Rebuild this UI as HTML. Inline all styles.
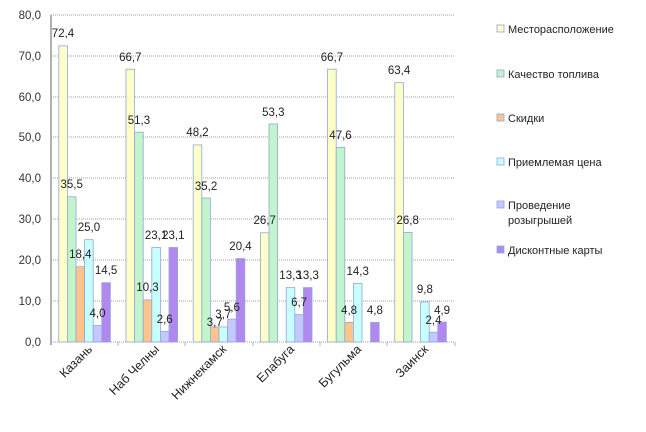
<!DOCTYPE html>
<html><head><meta charset="utf-8"><style>
html,body{margin:0;padding:0;background:#fff;}
svg{display:block;font-family:"Liberation Sans",sans-serif;}
</style></head><body>
<svg width="646" height="432" viewBox="0 0 646 432" xmlns="http://www.w3.org/2000/svg">
<g stroke="#a0a0a0" stroke-width="1" stroke-dasharray="1,1">
<line x1="51" y1="15" x2="455" y2="15"/><line x1="51" y1="56" x2="455" y2="56"/>
<line x1="51" y1="97" x2="455" y2="97"/><line x1="51" y1="137" x2="455" y2="137"/>
<line x1="51" y1="178" x2="455" y2="178"/><line x1="51" y1="219" x2="455" y2="219"/>
<line x1="51" y1="260" x2="455" y2="260"/><line x1="51" y1="301" x2="455" y2="301"/>
<line x1="51" y1="342" x2="455" y2="342"/>
</g>
<line x1="51" y1="15" x2="51" y2="345" stroke="#b0b0b0" stroke-width="2"/>
<g stroke="#b0b0b0" stroke-width="1">
<line x1="118" y1="342" x2="118" y2="346"/><line x1="185" y1="342" x2="185" y2="346"/>
<line x1="253" y1="342" x2="253" y2="346"/><line x1="320" y1="342" x2="320" y2="346"/>
<line x1="387" y1="342" x2="387" y2="346"/><line x1="455" y1="342" x2="455" y2="346"/>
</g>
<g font-size="11.5" fill="#333" text-anchor="end">
<text x="41" y="19">80,0</text><text x="41" y="60">70,0</text><text x="41" y="101">60,0</text>
<text x="41" y="141">50,0</text><text x="41" y="182">40,0</text><text x="41" y="223">30,0</text>
<text x="41" y="264">20,0</text><text x="41" y="305">10,0</text><text x="41" y="346">0,0</text>
</g>
<g stroke="#8fa8d8" stroke-width="0.8">
<rect x="58.8" y="45.9" width="8.6" height="296.1" fill="#ffffc8"/>
<rect x="67.4" y="196.8" width="8.6" height="145.2" fill="#c4f4cc"/>
<rect x="76" y="266.7" width="8.6" height="75.3" fill="#ffc48c"/>
<rect x="84.6" y="239.7" width="8.6" height="102.3" fill="#c8ffff"/>
<rect x="93.2" y="325.6" width="8.6" height="16.4" fill="#c4c8ff"/>
<rect x="101.8" y="282.7" width="8.6" height="59.3" fill="#b088f0"/>
<rect x="126" y="69.2" width="8.6" height="272.8" fill="#ffffc8"/>
<rect x="134.6" y="132.2" width="8.6" height="209.8" fill="#c4f4cc"/>
<rect x="143.2" y="299.9" width="8.6" height="42.1" fill="#ffc48c"/>
<rect x="151.8" y="247.5" width="8.6" height="94.5" fill="#c8ffff"/>
<rect x="160.4" y="331.4" width="8.6" height="10.6" fill="#c4c8ff"/>
<rect x="169" y="247.5" width="8.6" height="94.5" fill="#b088f0"/>
<rect x="193.2" y="144.9" width="8.6" height="197.1" fill="#ffffc8"/>
<rect x="201.8" y="198" width="8.6" height="144" fill="#c4f4cc"/>
<rect x="210.4" y="326.9" width="8.6" height="15.1" fill="#ffc48c"/>
<rect x="219" y="326.9" width="8.6" height="15.1" fill="#c8ffff"/>
<rect x="227.6" y="319.1" width="8.6" height="22.9" fill="#c4c8ff"/>
<rect x="236.2" y="258.6" width="8.6" height="83.4" fill="#b088f0"/>
<rect x="260.4" y="232.8" width="8.6" height="109.2" fill="#ffffc8"/>
<rect x="269" y="124" width="8.6" height="218" fill="#c4f4cc"/>
<rect x="286.2" y="287.6" width="8.6" height="54.4" fill="#c8ffff"/>
<rect x="294.8" y="314.6" width="8.6" height="27.4" fill="#c4c8ff"/>
<rect x="303.4" y="287.6" width="8.6" height="54.4" fill="#b088f0"/>
<rect x="327.6" y="69.2" width="8.6" height="272.8" fill="#ffffc8"/>
<rect x="336.2" y="147.3" width="8.6" height="194.7" fill="#c4f4cc"/>
<rect x="344.8" y="322.4" width="8.6" height="19.6" fill="#ffc48c"/>
<rect x="353.4" y="283.5" width="8.6" height="58.5" fill="#c8ffff"/>
<rect x="370.6" y="322.4" width="8.6" height="19.6" fill="#b088f0"/>
<rect x="394.8" y="82.7" width="8.6" height="259.3" fill="#ffffc8"/>
<rect x="403.4" y="232.4" width="8.6" height="109.6" fill="#c4f4cc"/>
<rect x="420.6" y="301.9" width="8.6" height="40.1" fill="#c8ffff"/>
<rect x="429.2" y="332.2" width="8.6" height="9.8" fill="#c4c8ff"/>
<rect x="437.8" y="322" width="8.6" height="20" fill="#b088f0"/>
</g>
<g font-size="11.5" fill="#222" text-anchor="middle">
<text x="63" y="37">72,4</text><text x="71.7" y="188">35,5</text><text x="80.3" y="258">18,4</text>
<text x="88.9" y="231">25,0</text><text x="97.5" y="317">4,0</text><text x="106.1" y="274">14,5</text>
<text x="130.3" y="61">66,7</text><text x="138.9" y="124">51,3</text><text x="147.5" y="291">10,3</text>
<text x="156.1" y="239">23,1</text><text x="164.7" y="323">2,6</text><text x="173.3" y="239">23,1</text>
<text x="197.5" y="136">48,2</text><text x="206.1" y="190">35,2</text><text x="214.7" y="326">3,7</text>
<text x="223.3" y="318">3,7</text><text x="231.9" y="311">5,6</text><text x="240.5" y="250">20,4</text>
<text x="264.7" y="224">26,7</text><text x="273.3" y="116">53,3</text>
<text x="290.5" y="279">13,3</text><text x="299.1" y="306">6,7</text><text x="307.7" y="279">13,3</text>
<text x="331.9" y="61">66,7</text><text x="340.5" y="139">47,6</text><text x="349.1" y="314">4,8</text>
<text x="357.7" y="275">14,3</text><text x="374.9" y="314">4,8</text>
<text x="399.1" y="74">63,4</text><text x="407.7" y="224">26,8</text>
<text x="424.9" y="293">9,8</text><text x="433.5" y="324">2,4</text><text x="442.1" y="314">4,9</text>
</g>
<g font-size="12.5" fill="#222" text-anchor="end">
<text transform="translate(93,350) rotate(-45)">Казань</text>
<text transform="translate(160,350) rotate(-45)">Наб Челны</text>
<text transform="translate(227,350) rotate(-45)">Нижнекамск</text>
<text transform="translate(295,350) rotate(-45)">Елабуга</text>
<text transform="translate(362,350) rotate(-45)">Бугульма</text>
<text transform="translate(429,350) rotate(-45)">Заинск</text>
</g>
<g stroke="#8fa8d8" stroke-width="0.8">
<rect x="497" y="25" width="7" height="7" fill="#ffffc8"/>
<rect x="497" y="70" width="7" height="7" fill="#c4f4cc"/>
<rect x="497" y="114" width="7" height="7" fill="#ffc48c"/>
<rect x="497" y="158" width="7" height="7" fill="#c8ffff"/>
<rect x="497" y="201" width="7" height="7" fill="#c4c8ff"/>
<rect x="497" y="246" width="7" height="7" fill="#b088f0"/>
</g>
<g font-size="11" fill="#222">
<text x="508" y="33">Месторасположение</text>
<text x="508" y="78">Качество топлива</text>
<text x="508" y="122">Скидки</text>
<text x="508" y="166">Приемлемая цена</text>
<text x="508" y="209">Проведение</text>
<text x="508" y="224">розыгрышей</text>
<text x="508" y="254">Дисконтные карты</text>
</g>
</svg>
</body></html>
